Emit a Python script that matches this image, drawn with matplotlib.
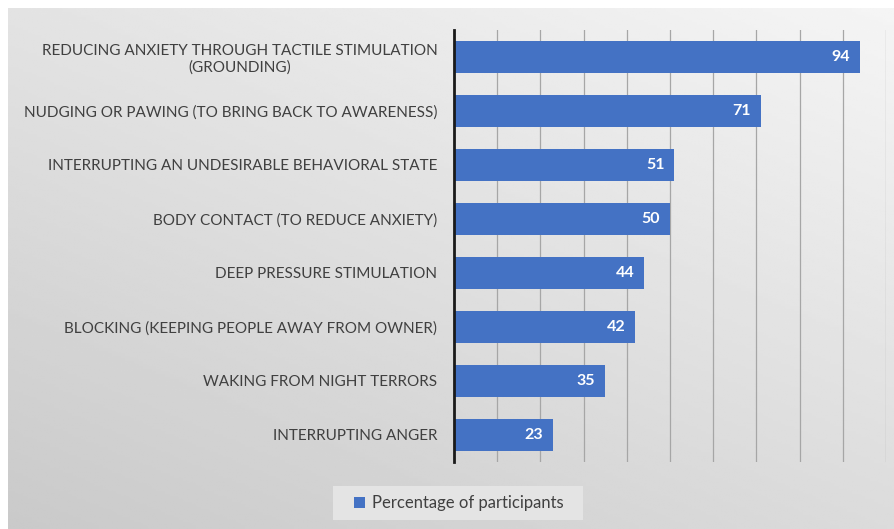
import matplotlib.pyplot as plt
from matplotlib.patches import Rectangle
import numpy as np

categories = [
    "REDUCING ANXIETY THROUGH TACTILE STIMULATION\n(GROUNDING)",
    "NUDGING OR PAWING (TO BRING BACK TO AWARENESS)",
    "INTERRUPTING AN UNDESIRABLE BEHAVIORAL STATE",
    "BODY CONTACT (TO REDUCE ANXIETY)",
    "DEEP PRESSURE STIMULATION",
    "BLOCKING (KEEPING PEOPLE AWAY FROM OWNER)",
    "WAKING FROM NIGHT TERRORS",
    "INTERRUPTING ANGER",
]
values = [94, 71, 51, 50, 44, 42, 35, 23]
series_name = "Percentage of participants"

plt.rcParams['font.family'] = ['Lato', 'DejaVu Sans']
bar_color = '#4472C4'
text_color = '#404040'

fig = plt.figure(figsize=(8.94, 5.29), dpi=100)

# gray gradient panel behind the chart
bg = fig.add_axes([8 / 894, 0, 886 / 894, 521 / 529], zorder=0)
yy, xx = np.mgrid[0:1:200j, 0:1:200j]
shade = 0.79 + 0.10 * yy + 0.07 * xx
bg.imshow(shade, cmap='gray', vmin=0, vmax=1, aspect='auto',
          origin='lower', extent=[0, 1, 0, 1])
bg.axis('off')

# lighter box behind the legend
fig.patches.append(Rectangle((333 / 894, 1 - 520 / 529), 250 / 894, 34 / 529,
                             transform=fig.transFigure, facecolor='#e4e4e4',
                             edgecolor='none', zorder=1))

ax = fig.add_axes([454 / 894, 1 - 462 / 529, 432 / 894, 432 / 529], zorder=2)
ax.patch.set_alpha(0)

y = np.arange(len(categories))
bars = ax.barh(y, values, height=0.6, color=bar_color, label=series_name, zorder=3)
ax.set_xlim(0, 100)
ax.set_ylim(len(categories) - 0.5, -0.5)
ax.set_xticks(np.arange(0, 101, 10))
ax.tick_params(axis='x', length=0, labelbottom=False)
ax.grid(axis='x', color='#a6a6a6', linewidth=0.9, zorder=0)

ax.set_yticks(y)
ax.set_yticklabels(categories, fontsize=11, color=text_color,
                   multialignment='center')
ax.tick_params(axis='y', length=0, pad=12)

for s in ['top', 'right', 'bottom']:
    ax.spines[s].set_visible(False)
ax.spines['left'].set_color('#1a1a1a')
ax.spines['left'].set_linewidth(2)
ax.spines['left'].set_zorder(4)

for b, v in zip(bars, values):
    ax.text(v - 2.3, b.get_y() + b.get_height() / 2, str(v), ha='right',
            va='center', color='white', fontsize=11.5, fontweight='bold', zorder=5)

leg = fig.legend(handles=[bars], labels=[series_name], loc='center',
                 bbox_to_anchor=(459 / 894, 1 - 503 / 529), fontsize=12,
                 frameon=False, handlelength=0.65, handleheight=0.65,
                 handletextpad=0.4, labelcolor=text_color)
leg.set_zorder(3)

plt.savefig("out.png", dpi=100)
